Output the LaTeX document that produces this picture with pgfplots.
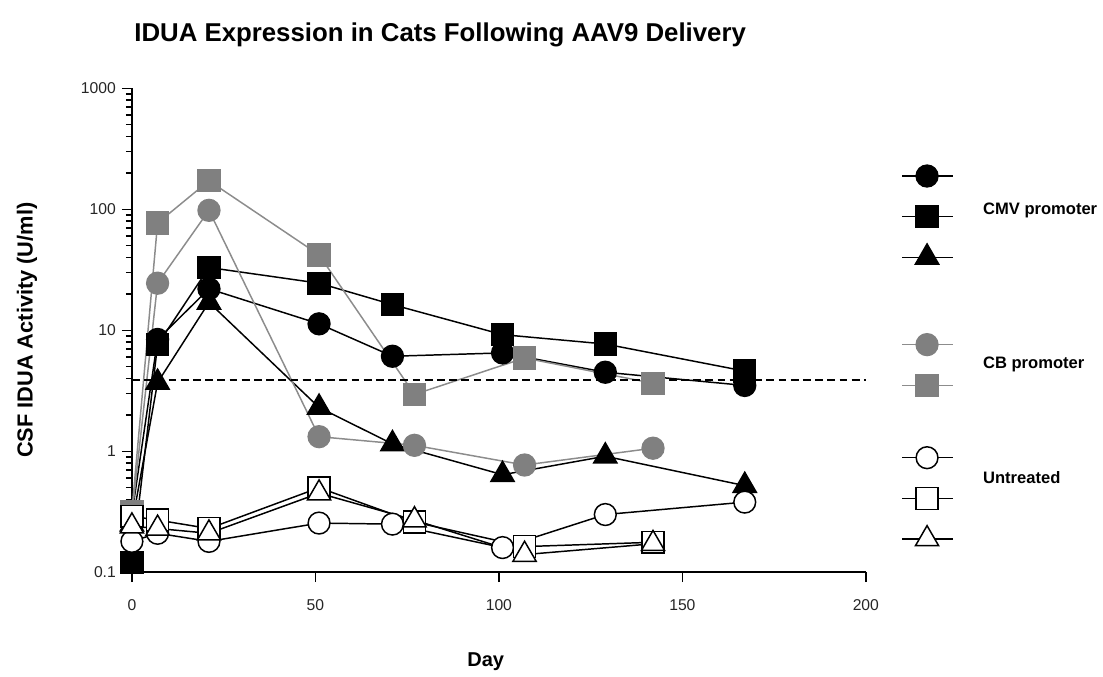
\documentclass[border=0pt]{standalone}
\usepackage{fontspec}
\setmainfont{Liberation Sans}
\usepackage{pgfplots}
\pgfplotsset{compat=1.18}
\definecolor{cbgray}{RGB}{128,128,128}
\definecolor{cbline}{RGB}{140,140,140}
\begin{document}
\begin{tikzpicture}
\begin{axis}[
  at={(0,0)}, anchor=south west,
  width=14.8cm, height=9.76cm, scale only axis,
  xmin=0, xmax=200, ymin=0.1, ymax=1000, ymode=log,
  enlargelimits=false, clip=false,
  axis lines=left,
  axis line style={-, line width=1.1pt, black},
  xtick={0,50,100,150,200},
  ytick={0.1,1,10,100,1000},
  yticklabels={0.1,1,10,100,1000},
  tick align=outside,
  major tick length=0.2cm, minor tick length=0.12cm,
  tick style={line width=0.85pt, black},
  /pgf/number format/assume math mode=true,
  ticklabel style={font=\fontsize{9}{11}\selectfont, text=black!85},
  xticklabel style={yshift=-0.22cm},
  title={IDUA Expression in Cats Following AAV9 Delivery},
  title style={font=\fontsize{14.8}{17}\selectfont\bfseries, at={(axis description cs:0.42,1.088)}, anchor=center},
  xlabel={Day},
  xlabel style={font=\fontsize{11.5}{14}\selectfont\bfseries, at={(axis description cs:0.482,-0.185)}, anchor=center},
  ylabel={CSF IDUA Activity (U/ml)},
  ylabel style={font=\fontsize{12.5}{15}\selectfont\bfseries, at={(axis description cs:-0.143,0.5)}, anchor=center},
  legend image code/.code={\path[draw=none,fill=none] (0cm,-0.41cm) rectangle (1.02cm,0.41cm);
    \draw[mark repeat=2,mark phase=2,#1] plot coordinates {(0cm,0cm) (0.5cm,0cm) (1.02cm,0cm)};},
  legend style={draw=none, fill=none, at={(axis description cs:1.0486,0.8607)}, anchor=north west,
    inner sep=0pt, outer sep=0pt, row sep=0pt, column sep=0pt,
    nodes={inner sep=0pt, outer sep=0pt}},
  legend cell align=left,
]
% CMV promoter
\addplot[black, line width=0.85pt, mark=*, mark size=0.22cm, mark options={fill=black}]
  coordinates {(0,0.3) (7,8.4) (21,22) (51,11.3) (71,6.1) (101,6.5) (129,4.5) (167,3.5)};
\addlegendentry{}
\addplot[black, line width=0.85pt, mark=square*, mark size=0.22cm, mark options={fill=black}]
  coordinates {(0,0.12) (7,7.6) (21,33) (51,24.5) (71,16.3) (101,9.2) (129,7.7) (167,4.6)};
\addlegendentry{}
\addplot[black, line width=0.85pt, mark=triangle*, mark size=0.27cm, mark options={fill=black}]
  coordinates {(0,0.25) (7,3.7) (21,17) (51,2.3) (71,1.15) (101,0.64) (129,0.91) (167,0.52)};
\addlegendentry{}
\addlegendimage{legend image code/.code={\path[draw=none,fill=none] (0cm,-0.47cm) rectangle (1cm,0.47cm);}}
\addlegendentry{}
% CB promoter
\addplot[cbline, line width=0.85pt, mark=*, mark size=0.22cm, mark options={fill=cbgray, draw=cbgray}]
  coordinates {(0,0.3) (7,24.5) (21,98) (51,1.32) (77,1.12) (107,0.77) (142,1.06)};
\addlegendentry{}
\addplot[cbline, line width=0.85pt, mark=square*, mark size=0.22cm, mark options={fill=cbgray, draw=cbgray}]
  coordinates {(0,0.32) (7,77) (21,172) (51,42) (77,2.95) (107,5.9) (142,3.65)};
\addlegendentry{}
\addlegendimage{legend image code/.code={\path[draw=none,fill=none] (0cm,-0.32cm) rectangle (1cm,0.32cm);}}
\addlegendentry{}
% Untreated
\addplot[black, line width=0.85pt, mark=*, mark size=0.22cm, mark options={fill=white}]
  coordinates {(0,0.18) (7,0.21) (21,0.18) (51,0.255) (71,0.25) (101,0.16) (129,0.3) (167,0.38)};
\addlegendentry{}
\addplot[black, line width=0.85pt, mark=square*, mark size=0.22cm, mark options={fill=white}]
  coordinates {(0,0.29) (7,0.27) (21,0.23) (51,0.5) (77,0.26) (107,0.163) (142,0.177)};
\addlegendentry{}
\addplot[black, line width=0.85pt, mark=triangle*, mark size=0.27cm, mark options={fill=white}]
  coordinates {(0,0.24) (7,0.23) (21,0.21) (51,0.45) (77,0.27) (107,0.14) (142,0.172)};
\addlegendentry{}
% threshold
\addplot[black, line width=0.9pt, dash pattern=on 4.5pt off 2.5pt, forget plot]
  coordinates {(0,3.9) (200,3.9)};
\node[anchor=west, font=\fontsize{9.5}{11}\selectfont\bfseries] at (rel axis cs:1.1514,0.748) {CMV promoter};
\node[anchor=west, font=\fontsize{9.5}{11}\selectfont\bfseries] at (rel axis cs:1.1514,0.4303) {CB promoter};
\node[anchor=west, font=\fontsize{9.5}{11}\selectfont\bfseries] at (rel axis cs:1.1514,0.196) {Untreated};
\end{axis}
\path[use as bounding box] (-2.66,-1.92) rectangle (19.4,11.54);
\end{tikzpicture}
\end{document}
